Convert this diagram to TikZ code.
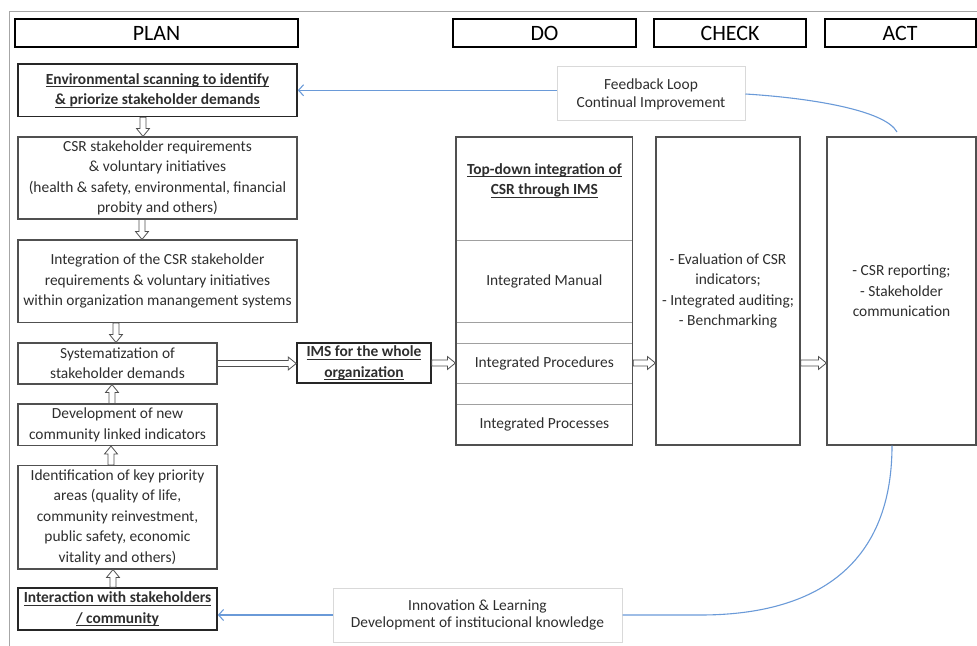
\documentclass[tikz,border=0pt]{standalone}
\usepackage{fontspec}
\setmainfont{Carlito}
\usetikzlibrary{arrows.meta,calc}
\definecolor{boxline}{HTML}{505050}
\definecolor{txt}{HTML}{2E2E2E}
\definecolor{loopblue}{HTML}{6A9AD8}
\definecolor{lightframe}{HTML}{D9D9D9}
\definecolor{framegray}{HTML}{A6A6A6}
\definecolor{divgray}{HTML}{A0A0A0}
\newcommand\ulin[1]{\setbox0\hbox{#1}\rlap{\rule[-2.6pt]{\wd0}{0.6pt}}\box0}
\begin{document}
\begin{tikzpicture}[x=1bp,y=-1bp,
  header/.style={draw=black, line width=2bp, inner sep=0pt, text=black,
    font=\fontsize{22}{26}\selectfont, minimum height=28bp},
  planbox/.style={draw=boxline, line width=1.1bp, inner sep=0pt, align=center, text=txt,
    font=\fontsize{15.5}{20.5}\selectfont},
  keybox/.style={draw=black!85, line width=1.6bp, inner sep=0pt, align=center, text=txt,
    font=\fontsize{15.5}{20.5}\selectfont\bfseries},
  column/.style={draw=boxline, line width=1.2bp, inner sep=0pt, align=center, text=txt,
    font=\fontsize{15.5}{20.5}\selectfont, minimum height=308bp},
  section/.style={draw=divgray, line width=0.8bp, inner sep=0pt, align=center, text=txt,
    font=\fontsize{15.5}{20.5}\selectfont, minimum width=176.7bp},
  dotitle/.style={inner sep=0pt, align=center, text=txt, font=\fontsize{15.5}{20.5}\selectfont\bfseries},
  loopbox/.style={draw=lightframe, line width=1bp, inner sep=0pt, align=center, text=txt,
    font=\fontsize{15.5}{18}\selectfont, minimum height=54bp},
  loopline/.style={draw=loopblue, line width=1.1bp},
  looparrow/.style={loopline, -{Straight Barb[length=5bp,width=11bp]}},
  blockarrow/.style={draw=boxline, line width=0.8bp, fill=white,
    to path={let \p1=(\tikztostart), \p2=(\tikztotarget), \n1={atan2(\y2-\y1,\x2-\x1)} in
      ($(\p1)+(\n1+90:3pt)$) -- ($(\p2)+(\n1+180:8pt)+(\n1+90:3pt)$)
      -- ($(\p2)+(\n1+180:8pt)+(\n1+90:6.5pt)$) -- (\p2)
      -- ($(\p2)+(\n1+180:8pt)+(\n1-90:6.5pt)$) -- ($(\p2)+(\n1+180:8pt)+(\n1-90:3pt)$)
      -- ($(\p1)+(\n1-90:3pt)$) -- cycle}}
]
\useasboundingbox (0,0) rectangle (977,646);
% outer frame
\draw[framegray, line width=1bp] (9,646) -- (9,12) -- (977,12);

% headers
\node[header, minimum width=283bp] (plan) at (156.5,33) {PLAN};
\node[header, minimum width=183bp] (do) at (544.5,33) {DO};
\node[header, minimum width=152bp] (check) at (730,33) {CHECK};
\node[header, minimum width=151bp] (act) at (900,33) {ACT};

% PLAN column
\node[keybox, minimum width=279bp, minimum height=52.5bp] (env) at (157.5,90.25)
  {\ulin{Environmental scanning to identify}\\\ulin{\& priorize stakeholder demands}};
\node[planbox, minimum width=279bp, minimum height=82bp] (csr) at (157.5,178)
  {CSR stakeholder requirements\\\& voluntary initiatives\\(health \& safety, environmental, financial\\probity and others)};
\node[planbox, minimum width=279bp, minimum height=82.5bp] (integ) at (157.5,281.25)
  {Integration of the CSR stakeholder\\requirements \& voluntary initiatives\\within organization manangement systems};
\node[planbox, minimum width=199bp, minimum height=41bp] (syst) at (117.5,363.5)
  {Systematization of\\stakeholder demands};
\node[planbox, minimum width=199bp, minimum height=41.5bp] (devel) at (117.5,424.75)
  {Development of new\\community linked indicators};
\node[planbox, minimum width=199bp, minimum height=103.5bp] (ident) at (117.5,517.25)
  {Identification of key priority\\areas (quality of life,\\community reinvestment,\\public safety, economic\\vitality and others)};
\node[keybox, minimum width=199bp, minimum height=42bp] (inter) at (117.5,609)
  {\ulin{Interaction with stakeholders}\\\ulin{/ community}};
\node[keybox, minimum width=134bp, minimum height=40bp] (ims) at (364,363)
  {\ulin{IMS for the whole}\\\ulin{organization}};

% DO column
\node[section, minimum height=103bp] (s1) at (544.35,188.5) {};
\node[section, minimum height=82bp] (s2) at (544.35,281) {Integrated Manual};
\node[section, minimum height=21bp] (s3) at (544.35,332.5) {};
\node[section, minimum height=40bp] (s4) at (544.35,363) {Integrated Procedures};
\node[section, minimum height=21bp] (s5) at (544.35,393.5) {};
\node[section, minimum height=41bp] (s6) at (544.35,424.5) {Integrated Processes};
\node[column, minimum width=176.7bp] (docol) at (544.35,291) {};
\node[dotitle] (dotxt) at (544.35,180.5) {\ulin{Top-down integration of}\\\ulin{CSR through IMS}};

% CHECK and ACT columns
\node[column, minimum width=144bp] (checkcol) at (728,291)
  {- Evaluation of CSR\\indicators;\\- Integrated auditing;\\- Benchmarking};
\node[column, minimum width=149bp] (actcol) at (901.5,291)
  {- CSR reporting;\\- Stakeholder\\communication};

% loop boxes
\node[loopbox, minimum width=188bp] (feedback) at (651,94) {Feedback Loop\\Continual Improvement};
\node[loopbox, minimum width=289bp] (innov) at (477.5,615) {Innovation \& Learning\\Development of institucional knowledge};
\coordinate (fbend) at (897,132);

% blue loop connectors
\draw[looparrow] (env.east -| feedback.west) -- (env.east);
\draw[loopline] (feedback.east) .. controls (810,98) and (885,110) .. (fbend);
\draw[looparrow] (innov.west) -- (innov.west -| inter.east);
\draw[loopline] ([xshift=-9.5bp]actcol.south) .. controls (892,570) and (810,615) .. ([xshift=78bp]innov.east) -- (innov.east);

% block arrows
\draw[blockarrow] ([xshift=-14.5bp]env.south) to ([xshift=-14.5bp]csr.north);
\draw[blockarrow] ([xshift=-15.5bp]csr.south) to ([xshift=-15.5bp]integ.north);
\draw[blockarrow] ([xshift=-1.5bp]integ.south -| syst.north) to ([xshift=-1.5bp]syst.north);
\draw[blockarrow] ([xshift=-5.5bp]devel.north) to ([xshift=-5.5bp]syst.south);
\draw[blockarrow] ([xshift=-6.5bp]ident.north) to ([xshift=-6.5bp]devel.south);
\draw[blockarrow] ([xshift=-4.5bp]inter.north) to ([xshift=-4.5bp]ident.south);
\draw[blockarrow] (syst.east) to (syst.east -| ims.west);
\draw[blockarrow] (ims.east) to (ims.east -| docol.west);
\draw[blockarrow] (s4.east) to (s4.east -| checkcol.west);
\draw[blockarrow] (s4.east -| checkcol.east) to (s4.east -| actcol.west);
\end{tikzpicture}
\end{document}
